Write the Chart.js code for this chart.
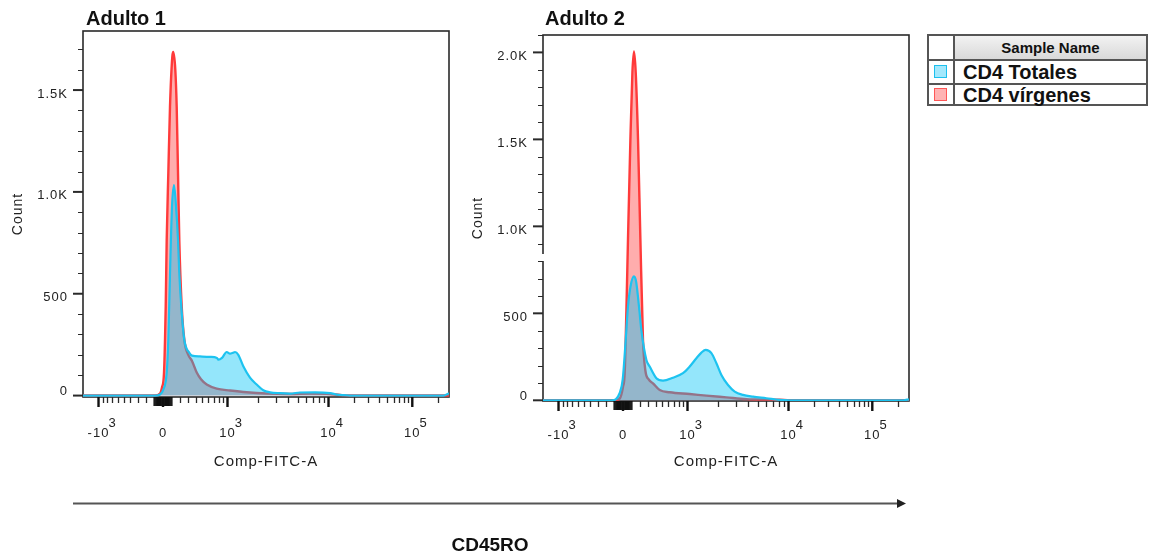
<!DOCTYPE html>
<html>
<head>
<meta charset="utf-8">
<script src="https://cdn.jsdelivr.net/npm/chart.js@4.4.1/dist/chart.umd.min.js"></script>
<style>
  html, body { margin: 0; padding: 0; background: #fff; }
  body { width: 1149px; height: 556px; position: relative; overflow: hidden;
         font-family: "Liberation Sans", Arial, sans-serif; color: #111; }
  .panel { position: absolute; top: 0; width: 460px; height: 480px; }
  .panel canvas { position: absolute; left: 0; top: 0; }
  .ptitle { position: absolute; top: 7px; font-weight: bold; font-size: 20px; line-height: 23px; color: #111; white-space: nowrap; }
  #legend { position: absolute; left: 927px; top: 34px; width: 221px; height: 72px;
            box-sizing: border-box; border: 2px solid #555; }
  #legend .vline { position: absolute; left: 24px; top: 0; width: 2px; height: 100%; background: #555; }
  #legend .hline { position: absolute; left: 0; width: 100%; height: 2px; background: #555; }
  #legend .hdr { position: absolute; left: 26px; top: 0; right: 0; height: 23px;
                 background: linear-gradient(#f2f2f2, #d9d9d9); text-align: center;
                 font-weight: bold; font-size: 15px; line-height: 23px; color: #111; }
  #legend .row { position: absolute; left: 34px; font-weight: bold; font-size: 20px; line-height: 23px; color: #111; white-space: nowrap; }
  #legend .sw { position: absolute; left: 5px; width: 11px; height: 11px; border: 1.5px solid; }
  #xlab { position: absolute; left: 390px; width: 200px; top: 533px; text-align: center;
          font-weight: bold; font-size: 19px; line-height: 23px; color: #111; }
  svg { position: absolute; left: 0; top: 0; }
</style>
</head>
<body>
<div class="panel" style="left:0px"><canvas id="c1" width="460" height="480"></canvas></div>
<div class="panel" style="left:460px"><canvas id="c2" width="460" height="480"></canvas></div>
<div class="ptitle" style="left:86px">Adulto 1</div>
<div class="ptitle" style="left:545px">Adulto 2</div>

<div id="legend">
  <div class="hdr">Sample Name</div>
  <div class="vline"></div>
  <div class="hline" style="top:23px"></div>
  <div class="hline" style="top:47px"></div>
  <div class="sw" style="top:29px;background:#a3e8fc;border-color:#1cc0ee"></div>
  <div class="row" style="top:25px">CD4 Totales</div>
  <div class="sw" style="top:52px;background:#ffb3b3;border-color:#ff5757"></div>
  <div class="row" style="top:48px">CD4 vírgenes</div>
</div>

<svg width="1149" height="556">
  <line x1="73" y1="503.5" x2="898" y2="503.5" stroke="#555" stroke-width="2"/>
  <polygon points="897,499 906,503.5 897,508" fill="#222"/>
</svg>
<div id="xlab">CD45RO</div>

<script>
// ---------------- data ----------------
// x values are display channels of the biexponential FITC axis (0..1000 across the plot)
const seriesNames = ['CD4 Totales', 'CD4 vírgenes'];

const a1TotalesChannel = [0, 196.7, 210.4, 219.4, 228.7, 233.1, 237.7, 243.2, 248.6, 254.1, 259.6, 263.1, 268.6, 276.8, 290.4, 297.8, 319.7, 347, 366, 369.7, 379.8, 392.6, 401.6, 409.8, 415.3, 424.3, 438, 456.3, 474.6, 492.6, 511, 538, 565.6, 593, 634, 675, 694, 710, 730, 985, 1000];
const a1TotalesCount   = [0, 0, 5, 29, 113, 274, 600, 930, 1034, 930, 764, 600, 438, 274, 210, 196, 192, 190, 185, 176, 185, 214, 206, 210, 214, 200, 144, 88, 54, 26, 16, 12, 10, 15, 16, 12, 5, 2, 0, 0, 12];

const a1VirgenesChannel = [0, 196.7, 210.4, 215.8, 221.3, 226.0, 228.7, 233.1, 237.7, 244.0, 246.7, 252.2, 256.0, 259.6, 263.1, 269.7, 276.8, 287.7, 297.8, 310.7, 322.4, 338.0, 365.3, 401.6, 447.3, 501.9, 565.6, 620.2, 674.9, 702.2, 729.5, 1000];
const a1VirgenesCount   = [0, 0, 10, 40, 111, 438, 764, 1091, 1418, 1663, 1687, 1600, 1418, 1091, 764, 438, 274, 200, 170, 113, 80, 54, 34, 25, 16, 10, 8, 10, 8, 3, 0, 0];

const a2TotalesChannel = [0, 187.7, 209.6, 217.8, 226, 232.2, 239.6, 248.6, 254.6, 262.3, 268.9, 282.5, 291.5, 309.8, 327.9, 355.2, 382.5, 400.8, 419.1, 432.8, 444.5, 460.1, 473.8, 487.4, 505.5, 523.8, 546.4, 573.8, 610.4, 646.7, 674, 985, 1000];
const a2TotalesCount   = [0, 0, 42, 120, 348, 538, 660, 712, 680, 538, 400, 232, 194, 127, 113, 130, 156, 194, 242, 274, 290, 271, 213, 146, 88, 50, 31, 21, 12, 2, 0, 0, 6];

const a2VirgenesChannel = [0, 195.9, 209.6, 218.6, 223.2, 227.9, 232.2, 238.8, 244.3, 248.6, 253.3, 259.6, 266.1, 273.2, 279.8, 288.8, 300.5, 318.9, 346.2, 400.8, 446.4, 501.1, 555.7, 605.7, 646.7, 674, 1000];
const a2VirgenesCount   = [0, 0, 10, 78, 156, 520, 924, 1500, 1885, 2005, 1885, 1500, 924, 348, 170, 120, 98, 59, 46, 36, 27, 17, 7, 4, 3, 0, 0];

// axis ticks
const xTickValues = [-1000, 0, 1000, 10000, 100000];
const xTickBase   = ['-10', '0', '10', '10', '10'];
const xTickExp    = ['3', '', '3', '4', '5'];
const xMinorValues = [-900,-800,-700,-600,-500,-400,-300,-200, 200,300,400,500,600,700,800,900,
                      2000,3000,4000,5000,6000,7000,8000,9000,
                      20000,30000,40000,50000,60000,70000,80000,90000, 200000];
const xNearZeroValues = [-100,-90,-80,-70,-60,-50,-40,-30,-20,-10,10,20,30,40,50,60,70,80,90,100];

const y1TickValues = [0, 500, 1000, 1500];
const y1TickLabels = ['0', '500', '1.0K', '1.5K'];
const y2TickValues = [0, 500, 1000, 1500, 2000];
const y2TickLabels = ['0', '500', '1.0K', '1.5K', '2.0K'];

// ---------------- biexponential display transform ----------------
const ZERO_CH = 218.6, LIN_HALF = 176.2, ASINH_W = 500;
const DECADE_CH = {3: 394.8, 4: 670.8, 5: 899.7, 6: 1128.6};
function toChannel(v) {
  const a = Math.abs(v);
  if (a <= 1000) return ZERO_CH + LIN_HALF * Math.asinh(v / ASINH_W) / Math.asinh(1000 / ASINH_W);
  const d = Math.log10(a), lo = Math.floor(d);
  const c = DECADE_CH[lo] + (DECADE_CH[lo + 1] - DECADE_CH[lo]) * (d - lo);
  return v > 0 ? c : 2 * ZERO_CH - c;
}

const FAMILY = "'Liberation Sans', Arial, sans-serif";
const TXT = '#222';
const CYAN = '#1dc3f0', CYAN_FILL = 'rgba(0,195,245,0.42)';
const RED = '#ff3a3a', RED_FILL = 'rgba(255,60,60,0.42)';

function pts(ch, cnt) { return ch.map((c, i) => ({x: c, y: cnt[i]})); }

const deco = {
  id: 'deco',
  beforeDraw(chart) { chart.ctx.letterSpacing = '1px'; },
  beforeDatasetsDraw(chart, args, o) {
    const {ctx, chartArea: a, scales: {x, y}} = chart;
    ctx.save();
    ctx.strokeStyle = '#2a2a2a';
    ctx.lineWidth = 1.6;
    ctx.strokeRect(a.left, a.top, a.right - a.left, a.bottom - a.top);
    const hTick = (py, len, w) => { ctx.lineWidth = w; ctx.beginPath(); ctx.moveTo(a.left - len, py); ctx.lineTo(a.left, py); ctx.stroke(); };
    const vTick = (px, len, w) => { ctx.lineWidth = w; ctx.beginPath(); ctx.moveTo(px, a.bottom); ctx.lineTo(px, a.bottom + len); ctx.stroke(); };
    for (let v = 100; v <= o.yMax; v += 100) {
      if (o.yTicks.includes(v)) continue;
      hTick(Math.round(y.getPixelForValue(v)) + 0.5, 5, 1);
    }
    o.yTicks.forEach(v => hTick(y.getPixelForValue(v), 10, 2));
    xMinorValues.forEach(v => vTick(Math.round(x.getPixelForValue(toChannel(v))) + 0.5, 6, 1.3));
    ctx.strokeStyle = '#111';
    xNearZeroValues.forEach(v => vTick(x.getPixelForValue(toChannel(v)), 9, 1.4));
    xTickValues.forEach(v => vTick(x.getPixelForValue(toChannel(v)), 10, 2.4));
    if (o.gap) { ctx.fillStyle = '#fff'; ctx.fillRect(a.left - 3, o.gap[0], 5, o.gap[1] - o.gap[0]); }
    ctx.restore();
  },
  afterDraw(chart, args, o) {
    const {ctx, scales: {x}} = chart;
    ctx.save();
    ctx.font = '13px ' + FAMILY;
    ctx.letterSpacing = '1px';
    ctx.fillStyle = TXT;
    ctx.textBaseline = 'middle';
    ctx.textAlign = 'left';
    const cy = x.top + o.xPad + 7.8;
    xTickValues.forEach((v, i) => {
      if (!xTickExp[i]) return;
      const px = x.getPixelForValue(toChannel(v));
      const w = ctx.measureText(xTickBase[i]).width;
      ctx.fillText(xTickExp[i], px + w / 2 - 1, cy - 10);
    });
    ctx.restore();
    ctx.letterSpacing = '0px';
  }
};

function makePanel(id, cfg) {
  return new Chart(document.getElementById(id), {
    type: 'line',
    data: {
      datasets: [
        { label: seriesNames[0], data: pts(cfg.totCh, cfg.totCnt), borderColor: CYAN, backgroundColor: CYAN_FILL,
          borderWidth: 2.2, fill: 'origin', order: 0 },
        { label: seriesNames[1], data: pts(cfg.virCh, cfg.virCnt), borderColor: RED, backgroundColor: RED_FILL,
          borderWidth: 2.4, fill: 'origin', order: 1 }
      ]
    },
    options: {
      responsive: false, animation: false, devicePixelRatio: 1,
      layout: { padding: { left: 0, top: cfg.top, right: 11, bottom: 0 } },
      elements: { point: { radius: 0 }, line: { cubicInterpolationMode: 'monotone' } },
      plugins: { legend: { display: false }, tooltip: { enabled: false },
                 deco: { yMax: cfg.yMax, yTicks: cfg.yTicks, xPad: cfg.xPad, gap: cfg.gap } },
      scales: {
        x: {
          type: 'linear', min: 0, max: 1000,
          afterBuildTicks: s => { s.ticks = xTickValues.map(v => ({ value: toChannel(v) })); },
          afterFit: s => { s.height = cfg.xHeight; },
          grid: { display: false, drawTicks: false }, border: { display: false },
          ticks: { autoSkip: false, maxRotation: 0, padding: cfg.xPad, color: TXT,
                   font: { family: FAMILY, size: 13 }, callback: (v, i) => xTickBase[i] },
          title: { display: true, text: 'Comp-FITC-A', color: TXT, font: { family: FAMILY, size: 15 },
                   padding: { top: 4, bottom: 9 } }
        },
        y: {
          type: 'linear', min: cfg.yMin, max: cfg.yMax,
          afterBuildTicks: s => { s.ticks = cfg.yTicks.map(v => ({ value: v })); },
          afterFit: s => { s.width = 83; },
          grid: { display: false, drawTicks: false }, border: { display: false },
          ticks: { padding: 15, labelOffset: 4, color: TXT, font: { family: FAMILY, size: 13 },
                   callback: (v, i) => i === 0 ? [cfg.yLabels[0], ''] : cfg.yLabels[i] },
          title: { display: true, text: 'Count', color: TXT, font: { family: FAMILY, size: 14 },
                   padding: { top: 10, bottom: 0 } }
        }
      }
    },
    plugins: [deco]
  });
}

makePanel('c1', { totCh: a1TotalesChannel, totCnt: a1TotalesCount, virCh: a1VirgenesChannel, virCnt: a1VirgenesCount,
  top: 31, xHeight: 83, xPad: 29, yMin: -7, yMax: 1790, yTicks: y1TickValues, yLabels: y1TickLabels, gap: null });
makePanel('c2', { totCh: a2TotalesChannel, totCnt: a2TotalesCount, virCh: a2VirgenesChannel, virCnt: a2VirgenesCount,
  top: 35, xHeight: 79, xPad: 27, yMin: -4, yMax: 2100, yTicks: y2TickValues, yLabels: y2TickLabels, gap: [254, 261] });
</script>
</body>
</html>
